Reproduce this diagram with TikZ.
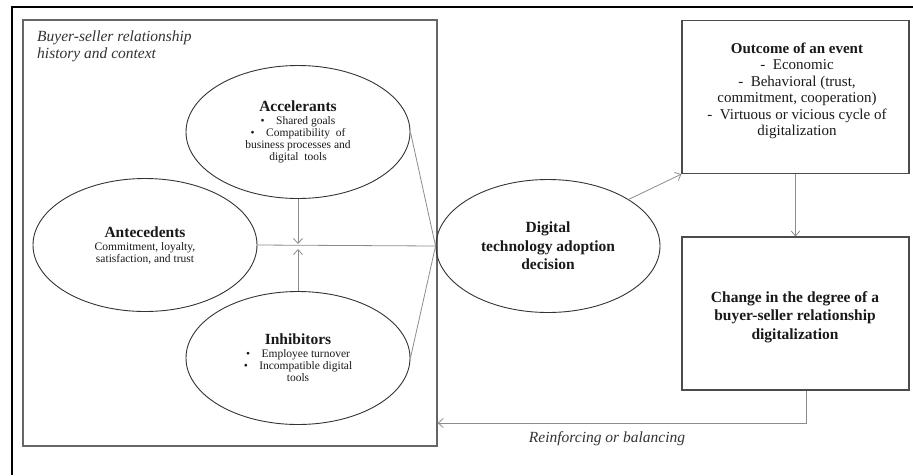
\documentclass[tikz,border=0pt]{standalone}
\usepackage{fontspec}
\setmainfont{Liberation Serif}
\usetikzlibrary{shapes.geometric,arrows.meta,calc}
\begin{document}
\begin{tikzpicture}[x=1pt,y=-1pt,
  ell/.style={ellipse,draw=black!80,line width=0.9pt,minimum width=224pt,minimum height=133pt,inner sep=0pt,align=center,text=black!90},
  boxs/.style={rectangle,draw=black!70,line width=1.2pt,minimum width=227pt,minimum height=153pt,inner sep=0pt},
  conn/.style={draw=black!45,line width=0.8pt},
  arr/.style={conn,-{Straight Barb[length=5pt,width=9pt]}},
  ]
\useasboundingbox (0,0) rectangle (913,475);
% outer frame
\draw[line width=1.6pt] (12,475) -- (12,7) -- (913,7);
% context box
\node[rectangle,draw=black!60,line width=1.3pt,minimum width=414pt,minimum height=426pt,inner sep=0pt] (ctx) at (230,233) {};
\node[anchor=north west,align=left,inner sep=0pt,text=black!80,font=\fontsize{15.5}{17}\selectfont\itshape] (hist) at (37,31) {Buyer-seller relationship\\history and context};
% ellipses
\node[ell] (acc) at (298,132) {{\fontsize{15.5}{17}\selectfont\bfseries Accelerants}\\[1pt]
  {\fontsize{11.5}{13}\selectfont \textbullet\quad Shared goals}\\
  {\fontsize{11.5}{13}\selectfont \textbullet\quad Compatibility\ \ of}\\
  {\fontsize{11.5}{13}\selectfont business processes and}\\
  {\fontsize{11.5}{13}\selectfont digital\ \ tools}};
\node[ell] (ant) at (145,245) {{\fontsize{15.5}{17}\selectfont\bfseries Antecedents}\\[1pt]
  {\fontsize{11.5}{15}\selectfont Commitment, loyalty,}\\
  {\fontsize{11.5}{15}\selectfont satisfaction, and trust}};
\node[ell] (inh) at (298,358) {{\fontsize{15.5}{17}\selectfont\bfseries Inhibitors}\\[1pt]
  {\fontsize{11.5}{13.5}\selectfont \textbullet\quad Employee turnover}\\
  {\fontsize{11.5}{13.5}\selectfont \textbullet\quad Incompatible digital}\\
  {\fontsize{11.5}{13.5}\selectfont tools}};
\node[ell,font=\fontsize{15.5}{18.5}\selectfont\bfseries] (dig) at (548,246) {Digital\\technology adoption\\decision};
% boxes
\node[boxs] (out) at (795.5,97) {};
\node[align=center,inner sep=0pt,font=\fontsize{15}{16.5}\selectfont,text=black!90] (outtxt) at (797,91) {{\bfseries Outcome of an event}\\
  -\enspace Economic\\
  -\enspace Behavioral (trust,\\
  commitment, cooperation)\\
  -\enspace Virtuous or vicious cycle of\\
  digitalization};
\node[boxs] (chg) at (795.5,313.5) {};
\node[align=center,inner sep=0pt,font=\fontsize{15.5}{18.5}\selectfont\bfseries,text=black!90] (chgtxt) at (795,317) {Change in the degree of a\\buyer-seller relationship\\digitalization};
% connectors
\coordinate (ja) at (298,244);
\coordinate (jb) at (298,249);
\draw[arr] (acc.south) -- (ja);
\draw[arr] (inh.north) -- (jb);
\draw[conn] (ant.east) -- (dig.west);
\draw[conn] (acc.east) -- (dig.west);
\draw[conn] (inh.east) -- (dig.west);
\draw[arr] (dig.30) -- (out.south west);
\draw[arr] (out.south) -- (chg.north);
\coordinate (fb) at (806,423);
\draw[arr] (chg.south -| fb) -- (fb) -- (fb -| ctx.east);
\node[inner sep=0pt,text=black!80,font=\fontsize{15.5}{17}\selectfont\itshape] (rb) at (607,439) {Reinforcing or balancing};
\end{tikzpicture}
\end{document}
